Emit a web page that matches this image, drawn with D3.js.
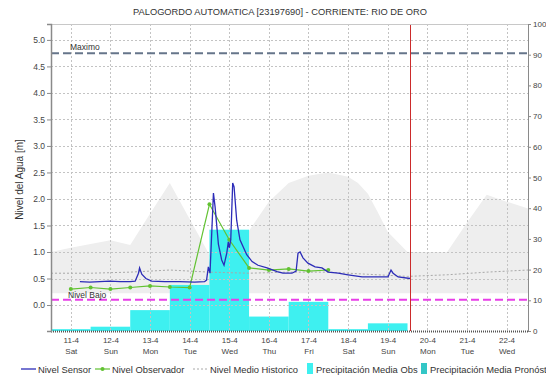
<!DOCTYPE html>
<html>
<head>
<meta charset="utf-8">
<script src="https://cdn.jsdelivr.net/npm/d3@7"></script>
<style>
  body { margin: 0; background: #fff; }
  svg { display: block; }
  text { font-family: "Liberation Sans", Arial, sans-serif; fill: #333; }
</style>
</head>
<body>
<svg id="chart" width="546" height="381"></svg>
<script>
// ---- chart text ----
const chartTitle = "PALOGORDO AUTOMATICA [23197690] - CORRIENTE: RIO DE ORO";
const levelAxisTitle = "Nivel del Agua [m]";
const legendNames = ["Nivel Sensor", "Nivel Observador", "Nivel Medio Historico",
                     "Precipitación Media Obs", "Precipitación Media Pronóstico"];

// ---- axes ----
const timeDomain = ["2015-04-10 12:00", "2015-04-22 13:00"];
const dayTicks = ["2015-04-11", "2015-04-12", "2015-04-13", "2015-04-14", "2015-04-15", "2015-04-16",
                  "2015-04-17", "2015-04-18", "2015-04-19", "2015-04-20", "2015-04-21", "2015-04-22"];
const levelDomain = [-0.49, 5.3];
const levelTicks = [0, 0.5, 1, 1.5, 2, 2.5, 3, 3.5, 4, 4.5, 5];
const precipDomain = [0, 100];
const precipTicks = [0, 10, 20, 30, 40, 50, 60, 70, 80, 90, 100];

// ---- reference levels ----
const maximoLevel = 4.75;
const bajoLevel = 0.1;
const nowTime = "2015-04-19 13:35";

// ---- Nivel Sensor ----
const sensorTimes = [
  "2015-04-11 05:30", "2015-04-11 11:30", "2015-04-11 17:30", "2015-04-11 23:30", "2015-04-12 06:00",
  "2015-04-12 12:00", "2015-04-12 15:00", "2015-04-12 17:00", "2015-04-12 17:40", "2015-04-12 19:00",
  "2015-04-12 21:30", "2015-04-13 01:00", "2015-04-13 09:00", "2015-04-13 18:00", "2015-04-14 03:00",
  "2015-04-14 09:00", "2015-04-14 10:15", "2015-04-14 11:20", "2015-04-14 12:20", "2015-04-14 14:25",
  "2015-04-14 15:25", "2015-04-14 17:25", "2015-04-14 19:25", "2015-04-14 20:50", "2015-04-14 22:30",
  "2015-04-14 23:25", "2015-04-15 00:05", "2015-04-15 00:55", "2015-04-15 02:05", "2015-04-15 02:55",
  "2015-04-15 04:30", "2015-04-15 06:30", "2015-04-15 10:35", "2015-04-15 13:50", "2015-04-15 17:25",
  "2015-04-15 22:55", "2015-04-16 05:00", "2015-04-16 08:35", "2015-04-16 14:00", "2015-04-16 16:30",
  "2015-04-16 17:40", "2015-04-16 18:55", "2015-04-16 20:40", "2015-04-16 23:40", "2015-04-17 04:00",
  "2015-04-17 08:10", "2015-04-17 11:55", "2015-04-17 18:00", "2015-04-18 00:00", "2015-04-18 08:30",
  "2015-04-18 16:20", "2015-04-19 00:10", "2015-04-19 02:00", "2015-04-19 03:15", "2015-04-19 06:20",
  "2015-04-19 13:35"
];
const sensorLevels = [
  0.44, 0.43, 0.44, 0.45, 0.44,
  0.44, 0.45, 0.60, 0.70, 0.58,
  0.50, 0.45, 0.44, 0.44, 0.43,
  0.44, 0.47, 0.72, 0.60, 2.11,
  1.85, 1.15, 0.85, 0.75, 0.98,
  1.19, 1.08, 1.23, 2.30, 2.23,
  1.60, 1.23, 0.95, 0.82, 0.75,
  0.70, 0.63, 0.60, 0.60, 0.64,
  0.98, 1.00, 0.89, 0.79, 0.72,
  0.70, 0.62, 0.60, 0.57, 0.53,
  0.53, 0.53, 0.66, 0.60, 0.53,
  0.50
];

// ---- Nivel Observador ----
const observerTimes = [
  "2015-04-11 00:00", "2015-04-11 12:00", "2015-04-12 00:00", "2015-04-12 12:00", "2015-04-13 00:00",
  "2015-04-13 12:00", "2015-04-14 00:00", "2015-04-14 12:00", "2015-04-15 00:00", "2015-04-15 12:00",
  "2015-04-16 00:00", "2015-04-16 12:00", "2015-04-17 00:00", "2015-04-17 12:00"
];
const observerLevels = [0.30, 0.33, 0.30, 0.33, 0.36, 0.34, 0.33, 1.90, 1.23, 0.70, 0.66, 0.68, 0.64, 0.66];

// ---- historic band (upper / lower) ----
const histBandTimes = [
  "2015-04-10 12:00", "2015-04-11 00:00", "2015-04-11 12:00", "2015-04-12 00:00", "2015-04-12 12:00",
  "2015-04-13 00:00", "2015-04-13 12:00", "2015-04-14 00:00", "2015-04-14 12:00", "2015-04-15 00:00",
  "2015-04-15 12:00", "2015-04-16 00:00", "2015-04-16 12:00", "2015-04-17 00:00", "2015-04-17 12:00",
  "2015-04-18 00:00", "2015-04-18 06:00", "2015-04-18 12:00", "2015-04-18 18:00", "2015-04-19 00:00",
  "2015-04-19 12:00", "2015-04-20 00:00", "2015-04-20 12:00", "2015-04-21 00:00", "2015-04-21 12:00",
  "2015-04-22 00:00", "2015-04-22 13:00"
];
const histBandHigh = [
  1.00, 1.08, 1.15, 1.22, 1.13,
  1.72, 2.30, 1.62, 0.95, 1.00,
  1.40, 1.95, 2.30, 2.44, 2.50,
  2.42, 2.30, 2.10, 1.75, 1.38,
  1.00, 1.00, 1.00, 1.55, 2.08,
  1.95, 1.82
];
const histBandLow = [
  0.22, 0.22, 0.22, 0.22, 0.22,
  0.22, 0.22, 0.22, 0.22, 0.22,
  0.22, 0.22, 0.22, 0.22, 0.22,
  0.22, 0.22, 0.22, 0.22, 0.22,
  0.22, 0.22, 0.22, 0.22, 0.22,
  0.22, 0.22
];

// ---- Nivel Medio Historico ----
const histMeanTimes = [
  "2015-04-10 12:00", "2015-04-11 12:00", "2015-04-12 12:00", "2015-04-13 12:00", "2015-04-14 12:00",
  "2015-04-15 12:00", "2015-04-16 12:00", "2015-04-17 12:00", "2015-04-18 12:00", "2015-04-19 12:00",
  "2015-04-20 12:00", "2015-04-21 12:00", "2015-04-22 13:00"
];
const histMeanLevels = [0.60, 0.60, 0.62, 0.66, 0.62, 0.60, 0.62, 0.62, 0.58, 0.54, 0.57, 0.62, 0.66];

// ---- Precipitación Media Obs (daily totals) ----
const precipDays = ["2015-04-11", "2015-04-12", "2015-04-13", "2015-04-14", "2015-04-15",
                    "2015-04-16", "2015-04-17", "2015-04-18", "2015-04-19"];
const precipObs = [0.6, 1.4, 6.8, 15, 33, 4.7, 9.5, 0.6, 2.5];

// ---- drawing ----
const parseTime = d3.timeParse("%Y-%m-%d %H:%M");
const parseDay = d3.timeParse("%Y-%m-%d");
const plot = { left: 51, right: 528, top: 24, bottom: 331 };

const svg = d3.select("#chart");
const x = d3.scaleTime().domain(timeDomain.map(parseTime)).range([plot.left, plot.right]);
const yLevel = d3.scaleLinear().domain(levelDomain).range([plot.bottom, plot.top]);
const yPrecip = d3.scaleLinear().domain(precipDomain).range([plot.bottom, plot.top]);

const colors = {
  sensor: "#2c2cb8", observer: "#62c232", band: "#eeeeee", mean: "#a8a8a8",
  precipObs: "#3ef0f0", precipFc: "#33c6c6", maximo: "#66758a", bajo: "#e83ee8",
  now: "#cc2b2b", grid: "#c3c3c3", axis: "#8a8a8a"
};

svg.append("defs").append("clipPath").attr("id", "plot-clip")
  .append("rect").attr("x", plot.left).attr("y", plot.top)
  .attr("width", plot.right - plot.left).attr("height", plot.bottom - plot.top);

const g = svg.append("g").attr("clip-path", "url(#plot-clip)");

// historic band
const band = histBandTimes.map((t, i) => ({ t: parseTime(t), hi: histBandHigh[i], lo: histBandLow[i] }));
g.append("path").datum(band)
  .attr("fill", colors.band)
  .attr("d", d3.area().x(d => x(d.t)).y0(d => yLevel(d.lo)).y1(d => yLevel(d.hi)));

// precipitation bars, one per day centred on the date tick
const halfDay = 12 * 3600 * 1000;
g.selectAll("rect.precip").data(precipDays.map((d, i) => ({ day: parseDay(d), v: precipObs[i] })))
  .join("rect").attr("class", "precip")
  .attr("x", d => x(new Date(+d.day - halfDay)))
  .attr("width", d => x(new Date(+d.day + halfDay)) - x(new Date(+d.day - halfDay)))
  .attr("y", d => yPrecip(d.v))
  .attr("height", d => yPrecip(0) - yPrecip(d.v))
  .attr("fill", colors.precipObs);

// grid
const dayDates = dayTicks.map(parseDay);
g.selectAll("line.vgrid").data(dayDates).join("line").attr("class", "vgrid")
  .attr("x1", d => Math.round(x(d)) + 0.5).attr("x2", d => Math.round(x(d)) + 0.5)
  .attr("y1", plot.top).attr("y2", plot.bottom)
  .attr("stroke", colors.grid).attr("stroke-dasharray", "2,2");
g.selectAll("line.hgrid").data(levelTicks).join("line").attr("class", "hgrid")
  .attr("y1", d => Math.round(yLevel(d)) + 0.5).attr("y2", d => Math.round(yLevel(d)) + 0.5)
  .attr("x1", plot.left).attr("x2", plot.right)
  .attr("stroke", colors.grid).attr("stroke-dasharray", "2,2");

// historic mean
const meanData = histMeanTimes.map((t, i) => ({ t: parseTime(t), v: histMeanLevels[i] }));
g.append("path").datum(meanData)
  .attr("fill", "none").attr("stroke", colors.mean).attr("stroke-width", 1)
  .attr("stroke-dasharray", "2,2")
  .attr("d", d3.line().x(d => x(d.t)).y(d => yLevel(d.v)));

// reference lines
g.append("line")
  .attr("x1", plot.left).attr("x2", plot.right)
  .attr("y1", yLevel(maximoLevel)).attr("y2", yLevel(maximoLevel))
  .attr("stroke", colors.maximo).attr("stroke-width", 2).attr("stroke-dasharray", "8,4");
g.append("line")
  .attr("x1", plot.left).attr("x2", plot.right)
  .attr("y1", yLevel(bajoLevel)).attr("y2", yLevel(bajoLevel))
  .attr("stroke", colors.bajo).attr("stroke-width", 2).attr("stroke-dasharray", "8,4");
svg.append("text").attr("x", 70).attr("y", yLevel(maximoLevel) - 3)
  .attr("font-size", 8.5).text("Maximo");
svg.append("text").attr("x", 68).attr("y", yLevel(bajoLevel) - 2)
  .attr("font-size", 8.5).text("Nivel Bajo");

// observer line
const obsData = observerTimes.map((t, i) => ({ t: parseTime(t), v: observerLevels[i] }));
g.append("path").datum(obsData)
  .attr("fill", "none").attr("stroke", colors.observer).attr("stroke-width", 1.2)
  .attr("d", d3.line().x(d => x(d.t)).y(d => yLevel(d.v)));
g.selectAll("circle.obs").data(obsData).join("circle").attr("class", "obs")
  .attr("cx", d => x(d.t)).attr("cy", d => yLevel(d.v)).attr("r", 2)
  .attr("fill", colors.observer);

// sensor line
const sensorData = sensorTimes.map((t, i) => ({ t: parseTime(t), v: sensorLevels[i] }));
g.append("path").datum(sensorData)
  .attr("fill", "none").attr("stroke", colors.sensor).attr("stroke-width", 1.3)
  .attr("d", d3.line().x(d => x(d.t)).y(d => yLevel(d.v)));

// current time marker
const nowX = Math.round(x(parseTime(nowTime))) + 0.5;
svg.append("line").attr("x1", nowX).attr("x2", nowX)
  .attr("y1", plot.top).attr("y2", plot.bottom)
  .attr("stroke", colors.now).attr("stroke-width", 1);

// frame
svg.append("line").attr("x1", plot.left).attr("x2", plot.right)
  .attr("y1", plot.top + 0.5).attr("y2", plot.top + 0.5).attr("stroke", "#c8c8c8");
svg.append("line").attr("x1", plot.left).attr("x2", plot.right)
  .attr("y1", plot.bottom + 0.5).attr("y2", plot.bottom + 0.5)
  .attr("stroke", "#555").attr("stroke-width", 2).attr("stroke-dasharray", "1,1");

// left axis
const leftAxis = svg.append("g").attr("transform", `translate(${plot.left},0)`)
  .call(d3.axisLeft(yLevel).tickValues(levelTicks).tickFormat(d3.format(".1f")).tickSize(4).tickPadding(2));
leftAxis.select(".domain").attr("stroke", colors.axis).attr("stroke-width", 1.5);
leftAxis.selectAll(".tick line").attr("stroke", colors.axis);
leftAxis.selectAll(".tick text").attr("font-size", 8.5).attr("font-family", null).style("fill", "#444");

// right axis
const rightAxis = svg.append("g").attr("transform", `translate(${plot.right},0)`)
  .call(d3.axisRight(yPrecip).tickValues(precipTicks).tickSize(3).tickPadding(2));
rightAxis.select(".domain").attr("stroke", colors.axis);
rightAxis.selectAll(".tick line").attr("stroke", colors.axis);
rightAxis.selectAll(".tick text").attr("font-size", 8).attr("font-family", null).style("fill", "#444");

// bottom axis with date and weekday
const fmtDay = d3.timeFormat("%-d-%-m");
const fmtWeekday = d3.timeFormat("%a");
const bottomAxis = svg.append("g").attr("transform", `translate(0,${plot.bottom})`)
  .call(d3.axisBottom(x).tickValues(dayDates).tickSize(0).tickPadding(6).tickFormat(""));
bottomAxis.select(".domain").remove();
bottomAxis.selectAll(".tick").each(function (d) {
  const t = d3.select(this).select("text").attr("font-size", 8).attr("font-family", null)
    .style("fill", "#444").attr("y", 0).attr("dy", null);
  t.append("tspan").attr("x", 0).attr("y", 12).text(fmtDay(d));
  t.append("tspan").attr("x", 0).attr("y", 23).text(fmtWeekday(d));
});

// titles
svg.append("text").attr("x", 280).attr("y", 15).attr("text-anchor", "middle")
  .attr("font-size", 9.3).text(chartTitle);
svg.append("text").attr("transform", `translate(23,${(yLevel(levelDomain[1]) + yLevel(levelDomain[0])) / 2 + 2}) rotate(-90)`)
  .attr("text-anchor", "middle").attr("font-size", 10).text(levelAxisTitle);

// legend
const legendY = 369;
const lg = svg.append("g").attr("font-size", 9.4);
const legendX = [21, 95, 193, 307, 421];
function legendText(i) {
  return lg.append("text").attr("x", legendX[i] + (i < 3 ? 17 : 9)).attr("y", legendY + 3.5).text(legendNames[i]);
}
lg.append("line").attr("x1", legendX[0]).attr("x2", legendX[0] + 15).attr("y1", legendY).attr("y2", legendY)
  .attr("stroke", colors.sensor).attr("stroke-width", 1.3);
legendText(0);
lg.append("line").attr("x1", legendX[1]).attr("x2", legendX[1] + 15).attr("y1", legendY).attr("y2", legendY)
  .attr("stroke", colors.observer).attr("stroke-width", 1.2);
lg.append("circle").attr("cx", legendX[1] + 7.5).attr("cy", legendY).attr("r", 2).attr("fill", colors.observer);
legendText(1);
lg.append("line").attr("x1", legendX[2]).attr("x2", legendX[2] + 15).attr("y1", legendY).attr("y2", legendY)
  .attr("stroke", colors.mean).attr("stroke-dasharray", "2,2");
legendText(2);
lg.append("rect").attr("x", legendX[3]).attr("y", legendY - 6).attr("width", 6).attr("height", 11)
  .attr("fill", colors.precipObs);
legendText(3);
lg.append("rect").attr("x", legendX[4]).attr("y", legendY - 6).attr("width", 6).attr("height", 11)
  .attr("fill", colors.precipFc);
legendText(4);
</script>
</body>
</html>
